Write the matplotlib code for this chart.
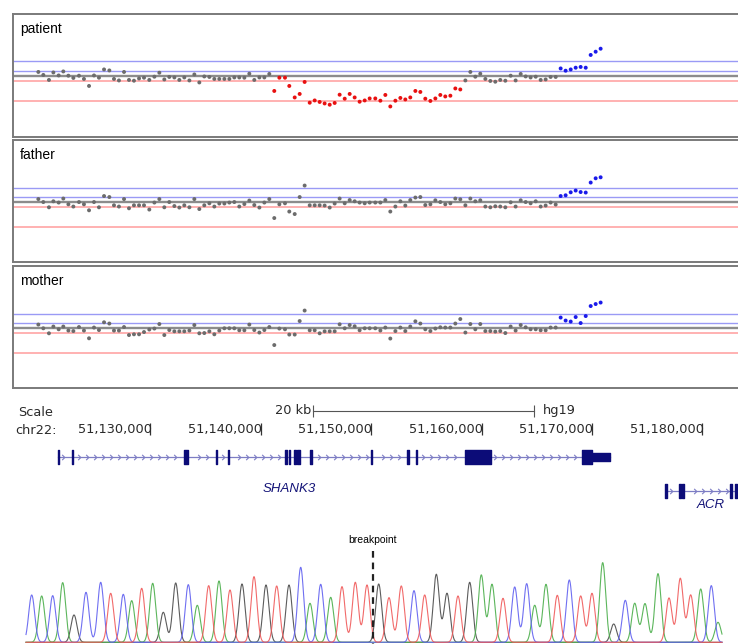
import numpy as np
import matplotlib
matplotlib.use("Agg")
import matplotlib.pyplot as plt
from matplotlib.path import Path

# ---------------- data ----------------
# array-CGH probe positions on chr22 (kb, hg19)
probe_kb = [
    51119.86, 51120.31, 51120.82, 51121.22, 51121.70, 51122.12, 51122.58, 51123.03, 51123.54, 51123.99,
    51124.45, 51124.90, 51125.35, 51125.81, 51126.29, 51126.71, 51127.16, 51127.62, 51128.07, 51128.52,
    51128.98, 51129.43, 51129.91, 51130.37, 51130.82, 51131.27, 51131.72, 51132.18, 51132.63, 51133.08,
    51133.54, 51133.99, 51134.44, 51134.89, 51135.35, 51135.80, 51136.25, 51136.71, 51137.16, 51137.61,
    51138.06, 51138.52, 51138.97, 51139.42, 51139.88, 51140.33, 51140.78,
    51141.23, 51141.69, 51142.20, 51142.59, 51143.08, 51143.53, 51143.98, 51144.44, 51144.89, 51145.34,
    51145.79, 51146.25, 51146.70, 51147.15, 51147.61, 51148.06, 51148.51, 51148.96, 51149.42,
    51149.87, 51150.38, 51150.84, 51151.29, 51151.74, 51152.20, 51152.65, 51153.10, 51153.55, 51154.01,
    51154.46, 51154.91, 51155.37, 51155.82, 51156.27, 51156.72, 51157.18, 51157.63, 51158.08,
    51158.54, 51158.99, 51159.44, 51159.89, 51160.35, 51160.80, 51161.25, 51161.70, 51162.16, 51162.64,
    51163.09, 51163.55, 51164.00, 51164.45, 51164.91, 51165.36, 51165.81, 51166.26, 51166.72,
    51167.17, 51167.62, 51168.08, 51168.53, 51168.98, 51169.44, 51169.89, 51170.34, 51170.79,
]

patient_log2 = [
    0.15, 0.03, -0.17, 0.13, 0.01, 0.17, 0.00, -0.09, 0.00, -0.13,
    -0.41, 0.01, -0.08, 0.25, 0.21, -0.13, -0.19, 0.15, -0.17, -0.20,
    -0.11, -0.08, -0.17, -0.04, 0.12, -0.15, -0.05, -0.07, -0.17, -0.07,
    -0.19, 0.05, -0.27, -0.03, -0.05, -0.13, -0.13, -0.13, -0.13, -0.07,
    -0.07, -0.08, 0.08, -0.17, -0.07, -0.07, 0.07,
    -0.61, -0.08, -0.08, -0.41, -0.87, -0.73, -0.25, -1.08, -0.99, -1.05,
    -1.11, -1.16, -1.09, -0.76, -0.92, -0.73, -0.87, -1.04, -0.99,
    -0.91, -0.91, -1.00, -0.77, -1.23, -1.00, -0.89, -0.95, -0.87, -0.61,
    -0.65, -0.92, -1.01, -0.91, -0.77, -0.83, -0.80, -0.51, -0.55,
    -0.19, 0.15, -0.04, 0.08, -0.13, -0.21, -0.24, -0.17, -0.20, 0.00,
    -0.19, 0.07, -0.03, -0.07, -0.04, -0.17, -0.15, -0.05, -0.05,
    0.29, 0.20, 0.25, 0.32, 0.35, 0.32, 0.83, 0.96, 1.08,
]

father_log2 = [
    0.13, 0.01, -0.20, 0.04, -0.01, 0.15, -0.08, -0.17, 0.01, -0.08,
    -0.32, 0.01, -0.20, 0.25, 0.21, -0.12, -0.17, 0.13, -0.24, -0.12,
    -0.12, -0.12, -0.29, -0.01, 0.13, -0.20, 0.01, -0.15, -0.21, -0.12,
    -0.20, 0.13, -0.27, -0.12, -0.04, -0.17, -0.05, -0.05, -0.01, 0.01,
    -0.17, -0.07, 0.07, -0.11, -0.21, -0.01, 0.13, -0.63, -0.08, -0.04,
    -0.37, -0.47, 0.21, 0.67, -0.12, -0.12, -0.12, -0.13, -0.21, -0.05,
    0.15, -0.04, 0.09, 0.04, -0.01, -0.04,
    -0.01, -0.01, -0.01, 0.09, -0.37, -0.17, 0.04, -0.13, 0.09, 0.19,
    0.21, -0.11, -0.08, 0.08, 0.01, -0.08, -0.04, 0.15, 0.12, -0.12,
    0.15, 0.04, 0.08, -0.17, -0.20, -0.16, -0.17, -0.20, 0.00, -0.17,
    0.08, 0.01, -0.04, 0.04, -0.17, -0.13, -0.01, -0.09,
    0.25, 0.28, 0.40, 0.47, 0.41, 0.39, 0.79, 0.96, 1.00,
]

mother_log2 = [
    0.15, 0.00, -0.20, 0.07, -0.04, 0.07, -0.09, -0.11, 0.05, -0.09,
    -0.40, 0.03, -0.07, 0.24, 0.19, -0.09, -0.09, 0.05, -0.27, -0.24,
    -0.24, -0.15, -0.05, -0.01, 0.17, -0.27, -0.07, -0.12, -0.12, -0.12,
    -0.09, 0.13, -0.20, -0.19, -0.12, -0.24, -0.09, 0.00, 0.00, 0.00,
    -0.08, -0.08, 0.15, -0.07, -0.17, -0.07, 0.05, -0.67, -0.01, -0.04,
    -0.25, -0.25, 0.29, 0.71, -0.08, -0.08, -0.20, -0.12, -0.12, -0.12,
    0.16, 0.00, 0.13, 0.08, -0.08, 0.00,
    0.00, 0.00, -0.09, 0.03, -0.41, -0.11, 0.03, -0.11, 0.07, 0.28,
    0.19, -0.04, -0.11, -0.01, 0.04, 0.03, 0.03, 0.19, 0.37, -0.17,
    0.17, -0.04, 0.17, -0.11, -0.11, -0.13, -0.11, -0.19, 0.07, -0.09,
    0.13, 0.04, -0.04, -0.04, -0.08, -0.08, 0.03, 0.03,
    0.43, 0.31, 0.27, 0.45, 0.21, 0.49, 0.89, 0.97, 1.03,
]

sample_names = ["patient", "father", "mother"]
# called segments (kb): loss / gain
patient_calls = [("loss", 51141.0, 51158.3), ("gain", 51167.0, 51171.0)]
father_calls = [("gain", 51167.0, 51171.0)]
mother_calls = [("gain", 51167.0, 51171.0)]

gain_thresholds = [0.585, 0.2]
loss_thresholds = [-0.2, -1.0]

ruler_ticks_kb = [51130, 51140, 51150, 51160, 51170, 51180]
ruler_labels = ["51,130,000", "51,140,000", "51,150,000", "51,160,000", "51,170,000", "51,180,000"]
scale_bar_kb = 20
scale_bar_start_kb = 51144.74

shank3_span = (51121.62, 51171.64)
shank3_exons = [(51121.60, 51121.72), (51122.92, 51123.04), (51133.08, 51133.38), (51135.95, 51136.08),
                (51137.04, 51137.16), (51142.23, 51142.35), (51142.53, 51142.65), (51143.05, 51143.17),
                (51143.28, 51143.52), (51144.50, 51144.62), (51149.96, 51150.08), (51153.28, 51153.40),
                (51154.03, 51154.15), (51158.51, 51160.86), (51169.10, 51170.01)]
shank3_utr = [(51170.01, 51171.64)]

acr_span = (51176.69, 51185.0)
acr_exons = [(51176.64, 51176.76), (51177.87, 51178.05), (51178.14, 51178.32),
             (51182.55, 51182.70), (51182.98, 51183.12)]

# Sanger chromatogram: peak scan positions, heights (RFU) and called bases
peak_scan = [31.7, 41.7, 52.7, 62.7, 74.0, 86.0, 100.7, 110.7, 123.3, 131.7,
             141.7, 152.7, 163.3, 175.7, 188.3, 197.3, 208.7, 219.0, 230.0, 242.0,
             254.0, 266.0, 276.7, 289.0, 300.7, 310.0, 320.7, 330.7, 342.0, 355.3,
             367.0,
             378.7, 389.0, 401.3, 414.0, 424.7, 436.3, 447.0, 458.0, 469.7, 481.3,
             492.0, 503.0, 514.7, 526.7, 534.7, 546.0, 557.3, 569.3, 580.7, 592.0,
             602.7, 613.7, 625.3, 634.7, 645.0, 658.0, 669.0, 680.3, 690.7, 700.7,
             711.3, 718.0]
peak_height = [1420, 1390, 1400, 1790, 820, 1500, 1800, 1470, 1440, 1250,
               1620, 1770, 900, 1780, 1730, 1110, 1700, 1840, 1570, 1750,
               1970, 1720, 1690, 1720, 2250, 1170, 1740, 1350, 1670, 1800,
               1720,
               1750, 1340, 1690, 1550, 1420, 2040, 1470, 1390, 1800, 2020,
               1740, 1320, 1660, 1760, 1110, 1740, 1410, 1870, 1390, 1470,
               2390, 550, 1260, 1170, 1160, 2060, 1330, 1920, 1420, 1600,
               1700, 600]
peak_base = "CACAGCCTCATAGGCATATGTGTGCACATTT" + "GTTCTGGTGAATCCAATCTTAGCAAATTTACA"
breakpoint_scan = 373.0

# ---------------- layout helpers ----------------
W, H = 738, 644
fig = plt.figure(figsize=(W / 100, H / 100), dpi=100)
fig.patch.set_facecolor("white")


def add_axes_px(left, top, right, bottom):
    return fig.add_axes([left / W, 1 - bottom / H, (right - left) / W, (bottom - top) / H])


def px_to_kb(px):
    # browser calibration: 51,130,000 at x=150.3 px, 11.04 px per kb
    return 51130 + (px - 150.3) / 11.04


LABEL_FONT = ["Liberation Sans", "DejaVu Sans"]
RULER_FONT = ["DejaVu Sans"]

probe = np.array(probe_kb)
calls_by_sample = [patient_calls, father_calls, mother_calls]
values_by_sample = [patient_log2, father_log2, mother_log2]
panel_px = [(14, 137, 75.7), (140.5, 262, 202.3), (266, 388, 328.3)]
PX_PER_UNIT = 25.0

for name, vals, calls, (top, bot, zero) in zip(sample_names, values_by_sample, calls_by_sample, panel_px):
    ax = add_axes_px(13, top, 746, bot)
    ax.set_xlim(px_to_kb(13), px_to_kb(746))
    ax.set_ylim(-(bot - zero) / PX_PER_UNIT, (zero - top) / PX_PER_UNIT)
    ax.set_xticks([])
    ax.set_yticks([])
    for sp in ax.spines.values():
        sp.set_color("#7a7a7a")
        sp.set_linewidth(1.4)
    for t in gain_thresholds:
        ax.axhline(t, color="#9a9af5", lw=1.0, zorder=1)
    for t in loss_thresholds:
        ax.axhline(t, color="#ff9c9c", lw=1.1, zorder=1)
    ax.axhline(0, color="#8c8c8c", lw=1.7, zorder=1)

    v = np.array(vals)
    colors = np.array(["#6c6c6c"] * len(v), dtype=object)
    for kind, s, e in calls:
        m = (probe >= s) & (probe <= e)
        colors[m] = "#e81010" if kind == "loss" else "#1a1aea"
    ax.scatter(probe, v, s=8, c=list(colors), linewidths=0, zorder=3)
    ax.text(7 / 733, 1 - 18.5 / (bot - top), name, transform=ax.transAxes,
            fontsize=10, family=LABEL_FONT, color="black", va="baseline", ha="left")

# ---------------- browser (ruler + genes) ----------------
axb = add_axes_px(0, 395, W, 515)
axb.set_xlim(px_to_kb(0), px_to_kb(W))
axb.set_ylim(120, 0)
axb.axis("off")

TXT = "#2a2a2a"
fx = lambda px: px_to_kb(px)
axb.text(fx(18), 17, "Scale", fontsize=9.3, family=RULER_FONT, color=TXT, va="center", ha="left")
axb.text(fx(15), 35, "chr22:", fontsize=9.3, family=RULER_FONT, color=TXT, va="center", ha="left")
axb.text(fx(311), 16, "20 kb", fontsize=9.3, family=RULER_FONT, color=TXT, va="center", ha="right")
axb.text(fx(543), 15.5, "hg19", fontsize=9.3, family=RULER_FONT, color=TXT, va="center", ha="left")
sb0, sb1 = scale_bar_start_kb, scale_bar_start_kb + scale_bar_kb
axb.plot([sb0, sb1], [16, 16], color="#555555", lw=0.8)
axb.vlines([sb0, sb1], 10, 22, color="#555555", lw=0.8)
for tk, lab in zip(ruler_ticks_kb, ruler_labels):
    axb.vlines(tk, 28, 40, color="#333333", lw=0.9)
    axb.text(tk + 0.12, 35, lab, fontsize=9.3, family=RULER_FONT, color=TXT, va="center", ha="right")

EXON = "#0c0c78"
INTRON = "#7d7dc4"
chev = Path([(-0.5, 1.0), (0.5, 0.0), (-0.5, -1.0)], [Path.MOVETO, Path.LINETO, Path.LINETO])


def draw_gene(span, exons, utrs, yc, end_kb):
    axb.plot([span[0], min(span[1], end_kb)], [yc, yc], color=INTRON, lw=0.9, zorder=1)
    axb.broken_barh([(s, e - s) for s, e in exons], (yc - 7, 14), color=EXON, zorder=3)
    if utrs:
        axb.broken_barh([(s, e - s) for s, e in utrs], (yc - 4, 8), color=EXON, zorder=3)
    # strand chevrons along introns
    step = 8 / 11.04
    xs = np.arange(span[0] + step * 0.6, min(span[1], end_kb), step)
    keep = [x for x in xs if all(not (s - 0.3 < x < e + 0.3) for s, e in exons + utrs)]
    axb.plot(keep, [yc] * len(keep), ls="none", marker=chev, ms=3.8, mfc="none",
             mec=INTRON, mew=0.8, zorder=2)


draw_gene(shank3_span, shank3_exons, shank3_utr, 62, shank3_span[1])
draw_gene(acr_span, acr_exons, [], 96, px_to_kb(W) + 1)
axb.text(px_to_kb(289), 94, "SHANK3", fontsize=9.5, family=LABEL_FONT, style="italic",
         color="#141478", ha="center", va="center")
axb.text(px_to_kb(711), 110, "ACR", fontsize=9.5, family=LABEL_FONT, style="italic",
         color="#141478", ha="center", va="center")

# ---------------- chromatogram ----------------
axc = add_axes_px(0, 526, W, H)
RFU_PER_PX = 30.0
axc.set_xlim(0, W)
axc.set_ylim(-(H - 642.3) * RFU_PER_PX, (642.3 - 526) * RFU_PER_PX)
axc.axis("off")

trace_color = {"C": "#6060f0", "A": "#4aae4a", "G": "#4a4a4a", "T": "#f05a5a"}
xs = np.linspace(26, 722, 3000)
ps = np.array(peak_scan)
hs = np.array(peak_height)
bases = np.array(list(peak_base))
for b in ["G", "A", "C", "T"]:
    m = bases == b
    y = np.zeros_like(xs)
    for p, h in zip(ps[m], hs[m]):
        y += h * np.exp(-0.5 * ((xs - p) / 3.0) ** 2)
    axc.plot(xs, y, color=trace_color[b], lw=0.8, alpha=0.9)

axc.plot([breakpoint_scan, breakpoint_scan], [(642.3 - 551) * RFU_PER_PX, -(H - 642.3) * RFU_PER_PX],
         color="#222222", lw=1.6, dashes=(3, 2.2))
axc.text(breakpoint_scan, (642.3 - 540) * RFU_PER_PX, "breakpoint", fontsize=7.5,
         family=LABEL_FONT, color="black", ha="center", va="center")

fig.savefig("out.png", dpi=100, facecolor="white")
